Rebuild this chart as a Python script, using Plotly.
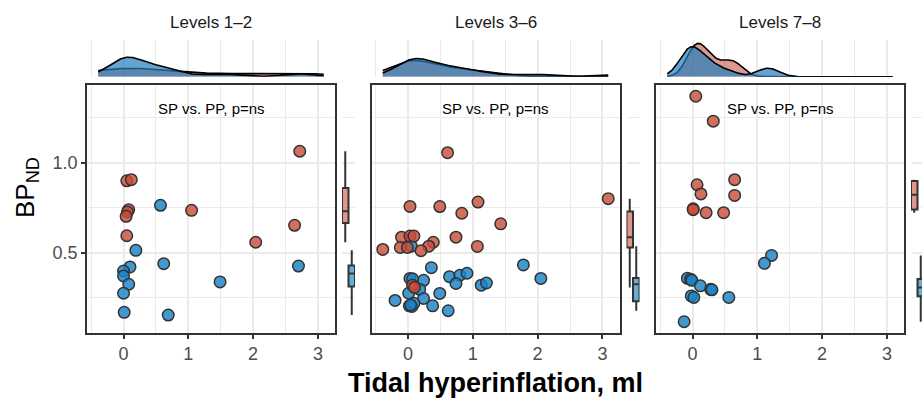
import numpy as np
import plotly.graph_objects as go

# ---------------- data ----------------
panel_titles = ["Levels 1\u20132", "Levels 3\u20136", "Levels 7\u20138"]
annot_text = "SP vs. PP, p=ns"
x_title = "Tidal hyperinflation, ml"
y_title = "BP<sub>ND</sub>"

# Levels 1-2
p1_sp_x = [2.72, 0.05, 0.12, 0.08, 0.06, 0.04, 1.05, 2.64, 0.05, 2.04]
p1_sp_y = [1.063, 0.899, 0.905, 0.739, 0.726, 0.702, 0.735, 0.652, 0.594, 0.558]
p1_pp_x = [0.57, 0.19, 0.10, 0.62, 2.70, 0.00, 0.00, 0.08, 1.49, 0.00, 0.01, 0.69]
p1_pp_y = [0.763, 0.513, 0.421, 0.439, 0.426, 0.398, 0.371, 0.325, 0.338, 0.275, 0.169, 0.154]

# Levels 3-6
p2_sp_x = [0.61, 3.09, 0.03, 0.49, 1.08, 0.83, 1.43, -0.10, 0.03, 0.09, 0.74, 0.39,
           0.32, -0.39, -0.12, -0.01, 0.20, 1.07, 0.07, 0.10]
p2_sp_y = [1.055, 0.800, 0.757, 0.756, 0.781, 0.719, 0.660, 0.586, 0.592, 0.592, 0.586, 0.558,
           0.536, 0.518, 0.529, 0.529, 0.511, 0.535, 0.320, 0.307]
p2_pp_x = [0.36, 1.78, 2.05, 0.05, 0.03, 0.24, 0.64, 0.80, 0.91, 0.74, 1.13, 1.21, 0.18,
           0.01, 0.49, -0.20, 0.24, 0.02, 0.06, 0.09, 0.38, 0.62, 0.07, 0.04]
p2_pp_y = [0.417, 0.432, 0.357, 0.536, 0.357, 0.347, 0.367, 0.375, 0.386, 0.329, 0.320, 0.332, 0.297,
           0.275, 0.274, 0.235, 0.246, 0.205, 0.202, 0.219, 0.205, 0.178, 0.355, 0.210]

# Levels 7-8
p3_sp_x = [0.05, 0.32, 0.65, 0.07, 0.13, 0.65, 0.01, 0.01, 0.21, 0.48]
p3_sp_y = [1.368, 1.230, 0.905, 0.877, 0.826, 0.818, 0.744, 0.739, 0.722, 0.722]
p3_pp_x = [1.22, 1.11, -0.08, -0.03, -0.01, 0.12, 0.28, 0.30, -0.02, 0.02, 0.56, -0.13]
p3_pp_y = [0.485, 0.441, 0.358, 0.353, 0.347, 0.316, 0.297, 0.294, 0.260, 0.252, 0.252, 0.117]

panels = [
    (p1_sp_x, p1_sp_y, p1_pp_x, p1_pp_y),
    (p2_sp_x, p2_sp_y, p2_pp_x, p2_pp_y),
    (p3_sp_x, p3_sp_y, p3_pp_x, p3_pp_y),
]

# ---------------- styles ----------------
W, H = 922, 399
RED_PT = "rgba(200,75,55,0.8)"
BLUE_PT = "rgba(25,130,198,0.82)"
RED_BOX = "rgba(205,95,75,0.65)"
BLUE_BOX = "rgba(40,140,200,0.7)"
RED_DEN = "rgba(190,70,55,0.55)"
BLUE_DEN = "rgba(35,125,190,0.7)"
EDGE = "#333333"
GRID = "#EBEBEB"
FONT = "Liberation Sans, Arial, sans-serif"


def fx(px):
    return px / W


def fy(py):
    return 1 - py / H


# panel pixel boxes
panel_left = [87, 371.5, 656]
panel_w = 248
top_py, bot_py = 85, 333
den_base_py, den_peak_py, den_top_py = 76.7, 43.3, 40

# ---------------- derived scales ----------------
all_x = np.concatenate([np.r_[a, c] for a, b, c, d in panels])
all_y = np.concatenate([np.r_[b, d] for a, b, c, d in panels])
xmin, xmax = all_x.min(), all_x.max()
ymin, ymax = all_y.min(), all_y.max()
xpad = 0.05 * (xmax - xmin)
ypad = 0.05 * (ymax - ymin)
xr = [xmin - xpad, xmax + xpad]
yr = [ymin - ypad, ymax + ypad]


def bw_nrd0(v):
    v = np.asarray(v, float)
    sd = np.std(v, ddof=1)
    iqr = np.subtract(*np.percentile(v, [75, 25]))
    lo = min(sd, iqr / 1.34) if iqr > 0 else sd
    return 0.9 * lo * len(v) ** -0.2


def kde(v, grid):
    v = np.asarray(v, float)
    bw = bw_nrd0(v)
    z = (grid[:, None] - v[None, :]) / bw
    return np.exp(-0.5 * z ** 2).sum(1) / (len(v) * bw * np.sqrt(2 * np.pi))


def box_stats(v):
    v = np.asarray(v, float)
    q1, med, q3 = np.percentile(v, [25, 50, 75])
    iqr = q3 - q1
    lo = v[v >= q1 - 1.5 * iqr].min()
    hi = v[v <= q3 + 1.5 * iqr].max()
    return q1, med, q3, lo, hi


grid = np.linspace(xmin, xmax, 512)
dens = [(kde(a, grid), kde(c, grid)) for a, b, c, d in panels]
dmax = max(max(r.max(), b.max()) for r, b in dens)

fig = go.Figure()
layout = dict()
annotations = []

for i, (sx, sy, bx_, by_) in enumerate(panels):
    k = i + 1
    xa = "x" if k == 1 else f"x{k}"
    ya = "y" if k == 1 else f"y{k}"
    xb = f"x{k + 3}"
    yd = f"y{k + 3}"
    left = panel_left[i]
    right = left + panel_w

    # scatter points
    fig.add_trace(go.Scatter(x=bx_, y=by_, mode="markers", xaxis=xa, yaxis=ya,
                             marker=dict(size=11.5, color=BLUE_PT, line=dict(color=EDGE, width=1.5)),
                             hoverinfo="skip"))
    fig.add_trace(go.Scatter(x=sx, y=sy, mode="markers", xaxis=xa, yaxis=ya,
                             marker=dict(size=11.5, color=RED_PT, line=dict(color=EDGE, width=1.5)),
                             hoverinfo="skip"))

    # marginal densities
    rden, bden = dens[i]
    fig.add_trace(go.Scatter(x=grid, y=rden, mode="lines", fill="tozeroy", fillcolor=RED_DEN,
                             line=dict(color="black", width=1.6), xaxis=xa, yaxis=yd,
                             hoverinfo="skip"))
    fig.add_trace(go.Scatter(x=grid, y=bden, mode="lines", fill="tozeroy", fillcolor=BLUE_DEN,
                             line=dict(color="black", width=1.6), xaxis=xa, yaxis=yd,
                             hoverinfo="skip"))

    # marginal boxplots
    for pos, vals, col in [(0, sy, RED_BOX), (1, by_, BLUE_BOX)]:
        q1, med, q3, lo, hi = box_stats(vals)
        fig.add_trace(go.Box(x=[pos], q1=[q1], median=[med], q3=[q3], lowerfence=[lo],
                             upperfence=[hi], width=1.0, whiskerwidth=0, boxpoints=False,
                             fillcolor=col, line=dict(color=EDGE, width=2),
                             xaxis=xb, yaxis=ya, hoverinfo="skip"))

    axis_common = dict(showline=True, mirror=True, linecolor=EDGE, linewidth=1.5,
                       gridcolor=GRID, gridwidth=1.6, zeroline=False,
                       tickfont=dict(family=FONT, size=18, color="#4D4D4D"))
    layout["xaxis" if k == 1 else f"xaxis{k}"] = dict(
        domain=[fx(left), fx(right)], range=xr, anchor=ya, tick0=0, dtick=1,
        ticks="outside", ticklen=4, tickwidth=1.5, tickcolor=EDGE,
        minor=dict(dtick=0.5, tick0=0, showgrid=True, gridcolor=GRID, gridwidth=1),
        **axis_common)
    ydict = dict(domain=[fy(bot_py), fy(top_py)], range=yr, anchor=xa, tick0=0, dtick=0.5,
                 tickformat=".1f",
                 minor=dict(dtick=0.25, tick0=0, showgrid=True, gridcolor=GRID, gridwidth=1),
                 **axis_common)
    if k == 1:
        ydict.update(ticks="outside", ticklen=4, tickwidth=1.5, tickcolor=EDGE)
    else:
        ydict.update(ticks="", showticklabels=False)
    layout["yaxis" if k == 1 else f"yaxis{k}"] = ydict

    # density y axis
    layout[f"yaxis{k + 3}"] = dict(
        domain=[fy(den_base_py), fy(den_top_py)],
        range=[0, dmax * (den_base_py - den_top_py) / (den_base_py - den_peak_py)],
        visible=False, anchor=xa)

    # box x axis
    unit = 6.5
    bl = right + 7
    br = min(W, right + 20)
    layout[f"xaxis{k + 3}"] = dict(domain=[fx(bl), fx(br)],
                                   range=[-0.5, -0.5 + (br - bl) / unit],
                                   visible=False, anchor=ya)

    # strip title
    annotations.append(dict(text=panel_titles[i], x=fx(left + panel_w / 2), y=fy(22),
                            xref="paper", yref="paper", showarrow=False,
                            font=dict(family=FONT, size=17, color="#1A1A1A"),
                            xanchor="center", yanchor="middle"))
    # in-panel label
    annotations.append(dict(text=annot_text, x=0.5, y=(bot_py - 109) / (bot_py - top_py),
                            xref=f"{xa} domain", yref=f"{ya} domain", showarrow=False,
                            font=dict(family=FONT, size=15, color="black"),
                            xanchor="center", yanchor="middle"))

annotations.append(dict(text=f"<b>{x_title}</b>", x=fx(495), y=fy(383), xref="paper", yref="paper",
                        showarrow=False, font=dict(family=FONT, size=27, color="black"),
                        xanchor="center", yanchor="middle"))
annotations.append(dict(text=y_title, x=fx(26), y=fy(188), xref="paper", yref="paper",
                        showarrow=False, textangle=-90,
                        font=dict(family=FONT, size=26, color="black"),
                        xanchor="center", yanchor="middle"))

fig.update_layout(**layout)
fig.update_layout(width=W, height=H, margin=dict(l=0, r=0, t=0, b=0),
                  paper_bgcolor="white", plot_bgcolor="white", showlegend=False,
                  boxmode="overlay", annotations=annotations,
                  font=dict(family=FONT))

fig.write_html("out.html")
